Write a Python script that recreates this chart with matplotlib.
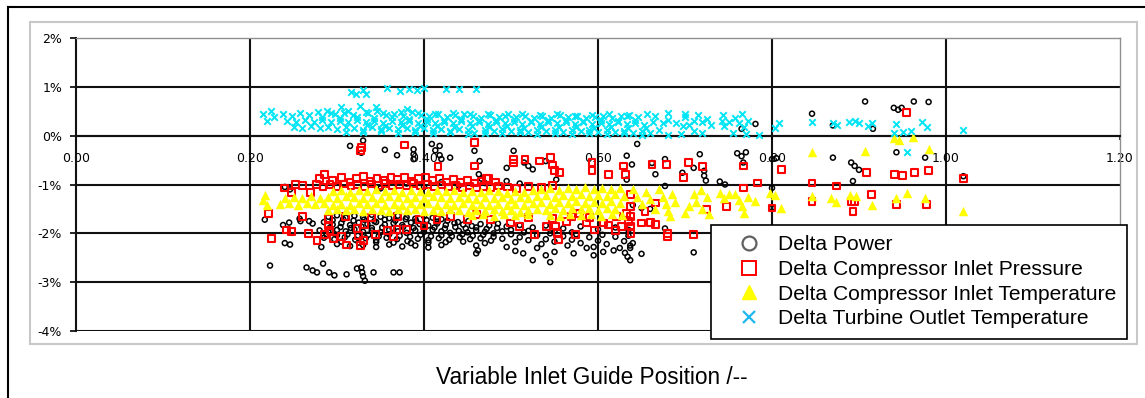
import numpy as np
import matplotlib
matplotlib.use("Agg")
import matplotlib.pyplot as plt
from matplotlib.lines import Line2D
from matplotlib.patches import Rectangle

# x = variable inlet guide vane position, y = delta in %
# Delta Power
power_core = [
    (0.290, -1.66), (0.300, -1.63), (0.310, -1.68), (0.320, -1.64), (0.330, -1.67), (0.340, -1.62),
    (0.350, -1.66), (0.360, -1.69), (0.370, -1.64), (0.380, -1.67), (0.390, -1.70), (0.400, -1.65),
    (0.410, -1.68), (0.420, -1.71),
    (0.295, -1.73), (0.307, -1.71), (0.319, -1.74), (0.331, -1.72), (0.343, -1.75), (0.355, -1.72),
    (0.367, -1.74), (0.379, -1.71), (0.391, -1.75), (0.403, -1.73), (0.415, -1.76), (0.427, -1.74),
    (0.439, -1.77), (0.451, -1.75),
    (0.245, -1.78), (0.258, -1.75), (0.272, -1.80), (0.285, -1.77), (0.295, -1.82), (0.305, -1.79),
    (0.315, -1.83), (0.325, -1.78), (0.335, -1.81), (0.345, -1.77), (0.355, -1.82), (0.365, -1.79),
    (0.375, -1.83), (0.385, -1.78), (0.395, -1.81), (0.405, -1.84), (0.415, -1.80), (0.425, -1.83),
    (0.435, -1.79), (0.445, -1.82), (0.455, -1.85), (0.465, -1.81), (0.475, -1.84), (0.485, -1.80),
    (0.495, -1.86), (0.510, -1.83), (0.525, -1.88), (0.540, -1.84), (0.560, -1.90), (0.580, -1.86),
    (0.600, -1.92), (0.620, -1.88), (0.635, -1.93),
    (0.292, -1.88), (0.304, -1.87), (0.316, -1.89), (0.328, -1.86), (0.340, -1.89), (0.352, -1.88),
    (0.364, -1.90), (0.376, -1.87), (0.388, -1.89), (0.400, -1.91), (0.412, -1.88), (0.424, -1.90),
    (0.436, -1.87), (0.448, -1.90), (0.460, -1.88), (0.472, -1.91), (0.484, -1.89), (0.500, -1.93),
    (0.520, -1.95), (0.550, -1.96), (0.570, -1.98),
    (0.280, -1.94), (0.290, -1.97), (0.300, -1.93), (0.310, -1.96), (0.320, -1.92), (0.330, -1.97),
    (0.340, -1.94), (0.350, -1.98), (0.360, -1.93), (0.370, -1.96), (0.380, -1.99), (0.390, -1.94),
    (0.400, -1.97), (0.410, -1.93), (0.420, -1.96), (0.430, -1.99), (0.440, -1.95), (0.450, -1.98),
    (0.460, -1.94), (0.470, -1.97), (0.480, -2.00), (0.490, -1.96), (0.500, -2.02), (0.515, -1.98),
    (0.530, -2.04), (0.545, -2.00), (0.560, -2.06), (0.575, -2.02), (0.590, -2.08), (0.605, -2.03),
    (0.620, -2.07), (0.635, -2.05),
    (0.288, -2.03), (0.300, -2.04), (0.312, -2.02), (0.324, -2.05), (0.336, -2.03), (0.348, -2.06),
    (0.360, -2.02), (0.372, -2.05), (0.384, -2.07), (0.396, -2.03), (0.408, -2.06), (0.420, -2.04),
    (0.432, -2.06), (0.444, -2.02), (0.456, -2.05), (0.468, -2.03), (0.480, -2.07), (0.510, -2.08),
    (0.540, -2.12), (0.570, -2.13), (0.600, -2.15), (0.630, -2.16),
    (0.285, -2.09), (0.297, -2.12), (0.309, -2.08), (0.321, -2.13), (0.333, -2.10), (0.345, -2.14),
    (0.357, -2.09), (0.369, -2.12), (0.381, -2.16), (0.393, -2.11), (0.405, -2.14), (0.417, -2.10),
    (0.429, -2.13), (0.441, -2.08), (0.453, -2.12), (0.465, -2.10), (0.477, -2.15), (0.490, -2.11),
    (0.505, -2.18), (0.520, -2.14), (0.535, -2.22), (0.550, -2.17), (0.565, -2.25), (0.580, -2.20),
    (0.595, -2.28), (0.610, -2.22), (0.625, -2.30), (0.637, -2.25),
    (0.305, -2.17), (0.325, -2.19), (0.345, -2.18), (0.365, -2.19), (0.385, -2.20), (0.405, -2.19),
    (0.425, -2.18), (0.445, -2.17), (0.470, -2.20),
    (0.300, -2.22), (0.315, -2.26), (0.330, -2.24), (0.345, -2.28), (0.360, -2.23), (0.375, -2.27),
    (0.390, -2.25), (0.405, -2.29), (0.420, -2.24), (0.460, -2.25), (0.462, -2.35), (0.460, -2.41),
    (0.495, -2.28), (0.505, -2.36), (0.514, -2.41), (0.525, -2.55), (0.530, -2.30), (0.540, -2.45),
    (0.545, -2.59), (0.550, -2.38), (0.572, -2.41), (0.587, -2.30), (0.595, -2.45), (0.606, -2.38),
    (0.618, -2.35), (0.631, -2.40), (0.634, -2.48), (0.637, -2.55), (0.640, -2.20),
]
power_scatter = [
    (0.217, -1.72), (0.238, -1.83), (0.240, -2.20), (0.246, -2.23), (0.257, -1.70), (0.282, -2.28),
    (0.223, -2.66), (0.265, -2.70), (0.272, -2.76), (0.277, -2.80), (0.284, -2.62), (0.291, -2.80),
    (0.297, -2.86), (0.311, -2.84), (0.323, -2.72), (0.328, -2.70), (0.329, -2.80), (0.330, -2.88),
    (0.332, -2.97), (0.342, -2.80), (0.365, -2.80), (0.372, -2.80), (0.268, -1.75),
    (0.315, -0.21), (0.330, -0.10), (0.328, -0.35), (0.355, -0.29), (0.369, -0.40), (0.388, -0.28),
    (0.388, -0.38), (0.388, -0.48), (0.409, -0.17), (0.413, -0.30), (0.418, -0.40), (0.420, -0.48),
    (0.418, -0.21), (0.430, -0.45), (0.458, -0.31), (0.464, -0.52), (0.503, -0.31), (0.495, -0.66),
    (0.515, -0.55), (0.520, -0.62), (0.525, -0.69), (0.540, -0.52), (0.552, -0.90), (0.633, -0.41),
    (0.633, -0.90), (0.463, -0.79), (0.466, -0.88), (0.470, -0.97), (0.495, -0.93), (0.510, -0.98),
    (0.240, -1.05), (0.246, -1.10), (0.380, -0.98), (0.400, -1.05), (0.420, -0.95), (0.440, -1.02),
    (0.350, -1.08),
    (0.645, -0.17), (0.639, -0.59), (0.662, -0.56), (0.677, -0.48), (0.666, -0.79), (0.717, -0.38),
    (0.710, -0.66), (0.697, -0.76), (0.722, -0.72), (0.722, -0.82), (0.724, -0.92), (0.740, -0.94),
    (0.746, -1.00), (0.760, -0.36), (0.765, -0.42), (0.770, -0.34), (0.767, -0.55), (0.781, 0.24),
    (0.765, 0.14), (0.800, -0.48), (0.805, -0.46), (0.846, 0.45), (0.800, -1.07), (0.800, -1.48),
    (0.650, -1.48), (0.660, -1.50), (0.677, -1.90), (0.677, -1.03), (0.710, -2.39), (0.637, -2.30),
    (0.650, -2.42), (0.640, -1.42),
    (0.907, 0.70), (0.940, 0.57), (0.949, 0.57), (0.945, 0.53), (0.963, 0.70), (0.980, 0.69),
    (0.870, 0.21), (0.916, 0.14), (0.870, -0.45), (0.891, -0.55), (0.895, -0.62), (0.900, -0.70),
    (0.943, -0.34), (0.976, -0.45), (0.893, -0.93), (1.020, -0.83),
]

# Delta Compressor Inlet Pressure
pressure_core = [
    (0.280, -0.88), (0.286, -0.80), (0.295, -0.92), (0.305, -0.86), (0.315, -0.95), (0.322, -0.88),
    (0.330, -0.84), (0.338, -0.93), (0.346, -0.87), (0.354, -0.91), (0.362, -0.85), (0.370, -0.89),
    (0.378, -0.86), (0.386, -0.93), (0.394, -0.88), (0.402, -0.86), (0.410, -0.92), (0.418, -0.88),
    (0.426, -0.95), (0.434, -0.90), (0.442, -0.96), (0.450, -0.92), (0.458, -0.97), (0.466, -0.93),
    (0.474, -0.88), (0.482, -0.95),
    (0.260, -1.02), (0.270, -1.17), (0.276, -1.00), (0.284, -1.05), (0.292, -1.00), (0.300, -1.04),
    (0.308, -0.99), (0.316, -1.03), (0.324, -1.00), (0.332, -1.04), (0.340, -0.99), (0.348, -1.02),
    (0.356, -0.98), (0.364, -1.03), (0.372, -1.00), (0.380, -1.02), (0.388, -0.98), (0.396, -1.03),
    (0.404, -1.00), (0.412, -1.04), (0.420, -1.01), (0.428, -1.05), (0.436, -1.02), (0.444, -1.06),
    (0.452, -1.03), (0.460, -1.07), (0.468, -1.04), (0.476, -1.06), (0.486, -1.03), (0.496, -1.05),
    (0.506, -1.08), (0.520, -1.04), (0.535, -1.06), (0.548, -1.02),
    (0.240, -1.07), (0.248, -1.17), (0.252, -1.00),
    (0.221, -1.59), (0.225, -2.10), (0.242, -1.93), (0.248, -1.96), (0.267, -2.00), (0.277, -2.14),
    (0.286, -2.03), (0.296, -2.10), (0.305, -2.07), (0.311, -2.24), (0.323, -1.90), (0.325, -2.05),
    (0.330, -2.15), (0.332, -1.82), (0.344, -2.03), (0.358, -1.95), (0.365, -2.06), (0.369, -1.92),
    (0.380, -1.92), (0.395, -1.72), (0.415, -1.72), (0.400, -1.85), (0.290, -1.70), (0.310, -1.65),
    (0.340, -1.68), (0.370, -1.66), (0.260, -1.65), (0.290, -1.85), (0.292, -1.95), (0.327, -2.25),
    (0.476, -1.72), (0.499, -1.79), (0.510, -1.86), (0.527, -2.03), (0.541, -1.86), (0.548, -1.70),
    (0.551, -1.85), (0.553, -2.00), (0.555, -2.12), (0.564, -1.76), (0.574, -2.03), (0.579, -1.59),
    (0.587, -1.79), (0.596, -1.93), (0.606, -1.79), (0.612, -1.83), (0.621, -1.66), (0.627, -1.86),
    (0.633, -1.60), (0.635, -1.75), (0.638, -2.00), (0.450, -1.72), (0.460, -1.62), (0.430, -1.65),
    (0.520, -1.68), (0.590, -1.68), (0.570, -1.65), (0.620, -1.95),
]
pressure_scatter = [
    (0.378, -0.19), (0.328, -0.24), (0.327, -0.30), (0.416, -0.63), (0.458, -0.14), (0.458, -0.62),
    (0.503, -0.48), (0.503, -0.56), (0.516, -0.48), (0.533, -0.52), (0.545, -0.45), (0.548, -0.60),
    (0.550, -0.72), (0.556, -0.76), (0.593, -0.55), (0.593, -0.72), (0.612, -0.79), (0.629, -0.62),
    (0.632, -0.80), (0.472, -0.88),
    (0.662, -0.59), (0.679, -0.59), (0.704, -0.55), (0.720, -0.63), (0.698, -0.86), (0.767, -0.62),
    (0.783, -0.97), (0.811, -0.69), (0.846, -0.97), (0.767, -1.07), (0.800, -1.48), (0.846, -1.34),
    (0.666, -1.38), (0.654, -1.55), (0.650, -1.79), (0.660, -1.78), (0.666, -1.82), (0.680, -2.00),
    (0.680, -2.06), (0.710, -2.03), (0.725, -1.52), (0.748, -1.45), (0.637, -1.20), (0.637, -1.45),
    (0.637, -1.65), (0.637, -1.85),
    (0.955, 0.48), (0.909, -0.76), (0.941, -0.79), (0.950, -0.81), (0.964, -0.76), (0.980, -0.71),
    (1.020, -0.88), (0.874, -1.03), (0.914, -1.21), (0.891, -1.34), (0.895, -1.34), (0.893, -1.55),
    (0.943, -1.41), (0.978, -1.41),
]

# Delta Compressor Inlet Temperature
temperature_core = [
    (0.295, -1.14), (0.305, -1.12), (0.315, -1.15), (0.325, -1.11), (0.335, -1.13), (0.345, -1.10),
    (0.355, -1.14), (0.365, -1.12), (0.375, -1.15), (0.385, -1.11), (0.395, -1.13), (0.405, -1.16),
    (0.415, -1.12), (0.425, -1.14), (0.435, -1.11), (0.445, -1.15), (0.455, -1.13), (0.465, -1.16),
    (0.475, -1.12), (0.485, -1.14), (0.495, -1.17), (0.505, -1.13), (0.515, -1.15), (0.525, -1.12),
    (0.535, -1.10), (0.545, -1.08), (0.555, -1.11), (0.565, -1.07), (0.575, -1.10), (0.585, -1.06),
    (0.595, -1.09), (0.605, -1.07), (0.615, -1.10), (0.625, -1.08),
    (0.240, -1.27), (0.250, -1.25), (0.260, -1.28), (0.270, -1.24), (0.280, -1.27), (0.290, -1.25),
    (0.300, -1.27), (0.310, -1.24), (0.320, -1.26), (0.330, -1.28), (0.340, -1.25), (0.350, -1.27),
    (0.360, -1.24), (0.370, -1.26), (0.380, -1.28), (0.390, -1.25), (0.400, -1.27), (0.410, -1.24),
    (0.420, -1.26), (0.430, -1.28), (0.440, -1.25), (0.450, -1.27), (0.460, -1.29), (0.470, -1.26),
    (0.480, -1.28), (0.490, -1.25), (0.500, -1.29), (0.510, -1.26), (0.520, -1.28), (0.530, -1.24),
    (0.540, -1.22), (0.550, -1.25), (0.560, -1.21), (0.570, -1.24), (0.580, -1.20), (0.590, -1.23),
    (0.600, -1.21), (0.610, -1.24), (0.620, -1.20), (0.630, -1.23),
    (0.235, -1.40), (0.245, -1.38), (0.255, -1.41), (0.265, -1.37), (0.275, -1.40), (0.285, -1.38),
    (0.295, -1.41), (0.305, -1.39), (0.315, -1.42), (0.325, -1.38), (0.335, -1.40), (0.345, -1.37),
    (0.355, -1.41), (0.365, -1.39), (0.375, -1.42), (0.385, -1.38), (0.395, -1.40), (0.405, -1.37),
    (0.415, -1.41), (0.425, -1.39), (0.435, -1.42), (0.445, -1.38), (0.455, -1.41), (0.465, -1.39),
    (0.475, -1.42), (0.485, -1.40), (0.495, -1.43), (0.505, -1.39), (0.515, -1.42), (0.525, -1.38),
    (0.535, -1.36), (0.545, -1.39), (0.555, -1.35), (0.565, -1.38), (0.575, -1.34), (0.585, -1.37),
    (0.595, -1.35), (0.605, -1.38), (0.615, -1.34), (0.625, -1.37),
    (0.290, -1.52), (0.300, -1.50), (0.310, -1.53), (0.320, -1.51), (0.330, -1.54), (0.340, -1.50),
    (0.350, -1.52), (0.360, -1.55), (0.370, -1.51), (0.380, -1.53), (0.390, -1.50), (0.400, -1.54),
    (0.410, -1.52), (0.420, -1.55), (0.430, -1.51), (0.440, -1.53), (0.450, -1.56), (0.460, -1.52),
    (0.470, -1.54), (0.480, -1.51), (0.490, -1.55), (0.500, -1.53), (0.510, -1.56), (0.520, -1.52),
    (0.530, -1.50), (0.540, -1.53), (0.550, -1.49), (0.560, -1.52), (0.570, -1.48), (0.580, -1.51),
    (0.590, -1.49), (0.600, -1.52), (0.610, -1.48), (0.620, -1.51),
    (0.455, -1.63), (0.468, -1.61), (0.480, -1.64), (0.492, -1.60), (0.505, -1.63), (0.520, -1.60),
    (0.545, -1.62), (0.556, -1.64), (0.568, -1.60), (0.580, -1.63), (0.592, -1.60), (0.604, -1.65),
    (0.616, -1.61), (0.628, -1.63),
]
temperature_scatter = [
    (0.217, -1.22), (0.215, -1.32), (0.219, -1.42),
    (0.640, -1.10), (0.645, -1.25), (0.650, -1.40), (0.655, -1.15), (0.660, -1.30), (0.665, -1.50),
    (0.670, -1.10), (0.675, -1.25), (0.678, -1.40), (0.680, -1.55), (0.683, -1.65), (0.685, -1.20),
    (0.688, -1.35),
    (0.700, -1.58), (0.705, -1.45), (0.710, -1.20), (0.713, -1.35), (0.718, -1.12), (0.720, -1.50),
    (0.725, -1.25), (0.728, -1.60),
    (0.740, -1.18), (0.745, -1.28), (0.750, -1.20), (0.757, -1.20), (0.762, -1.32), (0.765, -1.45),
    (0.768, -1.58), (0.772, -1.25), (0.781, -1.34), (0.798, -1.18), (0.803, -1.22), (0.810, -1.48),
    (0.846, -0.34), (0.846, -1.24),
    (0.868, -1.28), (0.873, -1.36), (0.890, -1.22), (0.897, -1.23), (0.915, -1.41), (0.907, -0.31),
    (0.940, -0.05), (0.946, -0.08), (0.962, -0.03), (0.980, -0.28), (0.943, -1.28), (0.955, -1.17),
    (0.976, -1.28), (1.020, -1.55),
]

# Delta Turbine Outlet Temperature
tot_core = [
    (0.238, 0.44), (0.248, 0.40), (0.258, 0.46), (0.268, 0.42), (0.278, 0.48), (0.288, 0.50),
    (0.298, 0.45), (0.308, 0.47), (0.318, 0.43), (0.326, 0.60), (0.336, 0.46), (0.346, 0.50),
    (0.356, 0.42), (0.366, 0.45), (0.376, 0.40), (0.386, 0.48), (0.396, 0.43), (0.406, 0.40),
    (0.416, 0.44), (0.426, 0.38), (0.436, 0.42), (0.446, 0.45), (0.456, 0.40), (0.466, 0.37),
    (0.476, 0.42), (0.486, 0.39), (0.496, 0.44), (0.506, 0.38), (0.516, 0.41), (0.526, 0.36),
    (0.536, 0.40), (0.546, 0.37), (0.556, 0.42), (0.566, 0.38), (0.576, 0.40), (0.586, 0.36),
    (0.596, 0.39), (0.606, 0.41), (0.616, 0.37), (0.626, 0.40), (0.636, 0.42), (0.646, 0.38),
    (0.656, 0.44), (0.666, 0.40), (0.680, 0.47), (0.700, 0.38), (0.715, 0.42),
    (0.293, 0.47), (0.313, 0.50), (0.333, 0.48), (0.353, 0.47), (0.373, 0.49), (0.393, 0.46),
    (0.413, 0.45), (0.433, 0.47), (0.453, 0.44), (0.473, 0.45), (0.493, 0.41), (0.513, 0.44),
    (0.533, 0.42), (0.553, 0.45), (0.573, 0.41), (0.593, 0.43), (0.613, 0.44), (0.633, 0.40),
    (0.283, 0.38), (0.303, 0.37), (0.323, 0.39), (0.343, 0.37), (0.363, 0.38), (0.383, 0.35),
    (0.403, 0.34), (0.423, 0.33), (0.443, 0.35), (0.463, 0.32), (0.483, 0.33), (0.503, 0.34),
    (0.523, 0.31), (0.543, 0.33), (0.563, 0.32), (0.583, 0.31), (0.603, 0.33), (0.623, 0.31),
    (0.643, 0.32),
    (0.243, 0.30), (0.253, 0.27), (0.263, 0.32), (0.273, 0.28), (0.283, 0.33), (0.293, 0.29),
    (0.303, 0.31), (0.313, 0.27), (0.323, 0.32), (0.333, 0.28), (0.343, 0.30), (0.353, 0.26),
    (0.363, 0.31), (0.373, 0.28), (0.383, 0.30), (0.393, 0.26), (0.403, 0.29), (0.413, 0.25),
    (0.423, 0.28), (0.433, 0.26), (0.443, 0.30), (0.453, 0.25), (0.463, 0.28), (0.473, 0.24),
    (0.483, 0.27), (0.493, 0.25), (0.503, 0.29), (0.513, 0.24), (0.523, 0.27), (0.533, 0.23),
    (0.543, 0.27), (0.553, 0.25), (0.563, 0.28), (0.573, 0.24), (0.583, 0.27), (0.593, 0.23),
    (0.603, 0.26), (0.613, 0.24), (0.623, 0.27), (0.633, 0.23), (0.643, 0.26), (0.653, 0.22),
    (0.663, 0.28), (0.675, 0.25), (0.680, 0.32), (0.690, 0.26), (0.705, 0.22), (0.720, 0.28),
    (0.335, 0.21), (0.355, 0.20), (0.375, 0.22), (0.395, 0.20), (0.415, 0.19), (0.435, 0.18),
    (0.455, 0.20), (0.475, 0.17), (0.495, 0.19), (0.515, 0.16), (0.535, 0.18), (0.555, 0.17),
    (0.575, 0.18), (0.595, 0.15), (0.615, 0.17), (0.635, 0.15), (0.655, 0.16),
    (0.250, 0.18), (0.260, 0.15), (0.270, 0.19), (0.280, 0.16), (0.290, 0.18), (0.300, 0.14),
    (0.310, 0.17), (0.320, 0.15), (0.330, 0.12), (0.340, 0.17), (0.350, 0.14), (0.360, 0.16),
    (0.370, 0.13), (0.380, 0.16), (0.390, 0.12), (0.400, 0.15), (0.410, 0.11), (0.420, 0.14),
    (0.430, 0.10), (0.440, 0.13), (0.450, 0.11), (0.458, 0.05), (0.470, 0.12), (0.480, 0.09),
    (0.490, 0.13), (0.500, 0.10), (0.510, 0.12), (0.520, 0.08), (0.530, 0.11), (0.540, 0.09),
    (0.550, 0.12), (0.560, 0.08), (0.570, 0.11), (0.580, 0.09), (0.590, 0.12), (0.600, 0.07),
    (0.610, 0.11), (0.620, 0.08), (0.630, 0.10), (0.640, 0.06), (0.650, 0.10), (0.660, 0.05),
    (0.670, 0.12), (0.680, 0.02), (0.695, 0.03), (0.710, 0.10), (0.720, 0.05),
    (0.310, 0.08), (0.330, 0.07), (0.350, 0.09), (0.370, 0.06), (0.390, 0.08), (0.410, 0.05),
    (0.430, 0.07), (0.450, 0.04), (0.470, 0.06), (0.490, 0.05), (0.510, 0.07), (0.530, 0.04),
    (0.550, 0.06), (0.570, 0.03), (0.590, 0.05), (0.610, 0.03), (0.630, 0.05), (0.650, 0.02),
]
tot_scatter = [
    (0.215, 0.45), (0.219, 0.30), (0.224, 0.50), (0.228, 0.38),
    (0.316, 0.90), (0.322, 0.85), (0.330, 0.93), (0.333, 0.86), (0.358, 0.97), (0.372, 0.92),
    (0.383, 0.96), (0.392, 0.93), (0.400, 0.97), (0.425, 0.96), (0.440, 0.95), (0.460, 0.95),
    (0.345, 0.58), (0.305, 0.58), (0.380, 0.55),
    (0.698, 0.20), (0.700, 0.45), (0.710, 0.30), (0.725, 0.35), (0.730, 0.22), (0.742, 0.30),
    (0.744, 0.42), (0.745, 0.20), (0.750, 0.28), (0.758, 0.36), (0.762, 0.25), (0.765, 0.45),
    (0.768, 0.18), (0.772, 0.30), (0.755, 0.05), (0.770, 0.03), (0.785, 0.02), (0.803, 0.15),
    (0.808, 0.25), (0.846, 0.28),
    (0.870, 0.25), (0.875, 0.22), (0.888, 0.28), (0.895, 0.30), (0.900, 0.25), (0.910, 0.20),
    (0.915, 0.26), (0.943, 0.24), (0.940, 0.06), (0.950, 0.07), (0.955, -0.34), (0.960, 0.10),
    (0.972, 0.28), (0.978, 0.18), (1.020, 0.12),
]

x_ticks = [0.0, 0.2, 0.4, 0.6, 0.8, 1.0, 1.2]
y_ticks = [-4, -3, -2, -1, 0, 1, 2]
labels = ["Delta Power", "Delta Compressor Inlet Pressure",
          "Delta Compressor Inlet Temperature", "Delta Turbine Outlet Temperature"]


def xy(*parts):
    a = np.array([p for part in parts for p in part])
    return a[:, 0], a[:, 1]


W, H = 1145, 398
fig = plt.figure(figsize=(W / 100, H / 100), dpi=100)
ax = fig.add_axes([76 / W, 1 - 331 / H, (1120 - 76) / W, (331 - 38) / H])
ax.set_xlim(0, 1.2)
ax.set_ylim(-4, 2)

# grid like the spreadsheet original
for yv in y_ticks[:-1]:
    ax.axhline(yv, color="#111111", lw=1.5, zorder=1)
for xv in x_ticks[1:-1]:
    ax.axvline(xv, color="#111111", lw=1.5, zorder=1)

px, py = xy(power_core, power_scatter)
ax.scatter(px, py, s=13, marker="o", facecolor="none", edgecolor="black", linewidths=1.1, zorder=3)
rx, ry = xy(pressure_core, pressure_scatter)
ax.scatter(rx, ry, s=24, marker="s", facecolor="none", edgecolor="red", linewidths=1.5, zorder=4)
tx, ty = xy(temperature_core, temperature_scatter)
ax.scatter(tx, ty, s=46, marker="^", color="yellow", linewidths=0, zorder=5)
cx, cy = xy(tot_core, tot_scatter)
ax.scatter(cx, cy, s=22, marker="x", color="#00E5F5", linewidths=1.4, zorder=6)

ax.spines["bottom"].set_position(("data", 0))
ax.spines["bottom"].set_color("#111111")
ax.spines["bottom"].set_linewidth(1.5)
ax.spines["left"].set_color("#111111")
ax.spines["left"].set_linewidth(1.5)
for s in ("top", "right"):
    ax.spines[s].set_color("#909090")
    ax.spines[s].set_linewidth(1.0)

ax.set_xticks(x_ticks)
ax.set_xticklabels([f"{v:.2f}" for v in x_ticks])
ax.set_yticks(y_ticks)
ax.set_yticklabels([f"{v}%" for v in y_ticks])
ax.tick_params(axis="x", direction="out", length=3, width=1.2, pad=9, labelsize=9)
ax.tick_params(axis="y", direction="out", length=4, width=1.2, pad=6, labelsize=9)

handles = [
    Line2D([], [], ls="none", marker="o", ms=10, mfc="none", mec="#606060", mew=1.6),
    Line2D([], [], ls="none", marker="s", ms=9.5, mfc="none", mec="red", mew=1.4),
    Line2D([], [], ls="none", marker="^", ms=10, mfc="yellow", mec="yellow"),
    Line2D([], [], ls="none", marker="x", ms=9, mec="#20B8F0", mew=1.6),
]
leg = fig.legend(handles, labels, loc="upper left", bbox_to_anchor=(711 / W, 1 - 225 / H),
                 borderaxespad=0, frameon=True, fancybox=False, framealpha=1,
                 edgecolor="black", handlelength=2.6, handletextpad=0.1, labelspacing=0.27,
                 borderpad=0.5, prop={"family": "Liberation Sans", "size": 15.1})
leg.get_frame().set_linewidth(1.2)

fig.text(592 / W, 1 - 377 / H, "Variable Inlet Guide Position /--", ha="center", va="center",
         family="Liberation Sans", fontsize=16.3)

# chart area border and outer frame
fig.add_artist(Rectangle((30 / W, 1 - 344 / H), (1137 - 30) / W, (344 - 22) / H, fill=False,
                         ec="#C8C8C8", lw=1.5, transform=fig.transFigure))
fig.add_artist(Line2D([8 / W, 8 / W], [0, 1 - 7 / H], color="black", lw=1.5, transform=fig.transFigure))
fig.add_artist(Line2D([8 / W, 1], [1 - 7 / H, 1 - 7 / H], color="black", lw=1.5, transform=fig.transFigure))

fig.savefig("out.png", dpi=100)
